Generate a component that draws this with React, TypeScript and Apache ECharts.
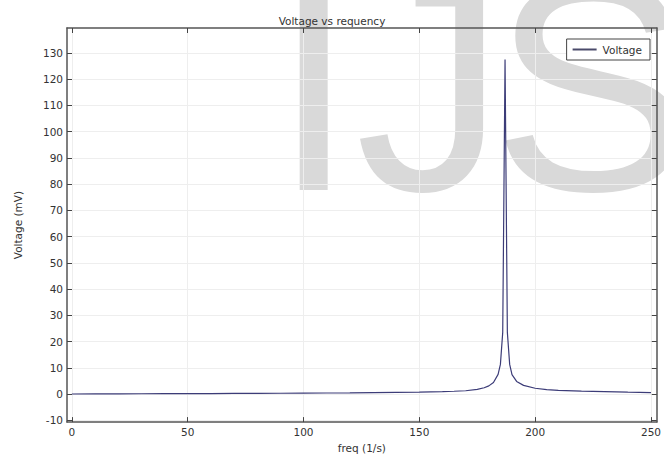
import React, { useEffect, useRef } from "react";
import * as echarts from "echarts";

const freq = [0, 10, 20, 30, 40, 50, 60, 70, 80, 90, 100, 110, 120, 130, 140, 150, 160, 165, 170, 175, 178, 180, 182, 184, 185, 186, 187, 188, 189, 190, 192, 195, 200, 205, 210, 220, 230, 240, 250];
const voltage = [0.0, 0.05, 0.08, 0.1, 0.12, 0.15, 0.18, 0.21, 0.25, 0.3, 0.35, 0.4, 0.45, 0.52, 0.6, 0.72, 0.9, 1.05, 1.25, 1.8, 2.4, 3.1, 4.4, 7.5, 11.3, 23.5, 127.5, 23.5, 11.3, 7.4, 4.8, 3.3, 2.2, 1.7, 1.4, 1.1, 0.9, 0.7, 0.55];
const xTicks = [0, 50, 100, 150, 200, 250];
const yTicks = [-10, 0, 10, 20, 30, 40, 50, 60, 70, 80, 90, 100, 110, 120, 130];

const TEXT = "#333";
const FRAME = "#555";
const FONT = "DejaVu Sans";
const WM = "#d9d9d9";

export default function App() {
  const ref = useRef<HTMLDivElement>(null);
  useEffect(() => {
    if (!ref.current) return;
    const chart = echarts.init(ref.current, undefined, { renderer: "svg" });
    const data = freq.map((f, i) => [f, voltage[i]]);
    const baseX = {
      type: "value",
      min: -2.1,
      max: 252.5,
      axisLine: { show: true, onZero: false, lineStyle: { color: FRAME, width: 1.5 } },
      axisTick: { show: true, inside: true, length: 5, customValues: xTicks, lineStyle: { color: "#444" } },
    };
    const baseY = {
      type: "value",
      min: -10.7,
      max: 139.5,
      axisLine: { show: true, onZero: false, lineStyle: { color: FRAME, width: 1.5 } },
      axisTick: { show: true, inside: true, length: 5, customValues: yTicks, lineStyle: { color: "#444" } },
    };
    chart.setOption({
      animation: false,
      backgroundColor: "#fff",
      title: {
        text: "Voltage vs requency",
        left: "center",
        top: 10,
        textStyle: { fontFamily: FONT, fontSize: 10.5, fontWeight: "normal", color: TEXT },
      },
      graphic: [
        {
          type: "text",
          z: -10,
          x: 272,
          y: 86,
          style: { text: "IJ", fontFamily: "Liberation Sans", fontSize: 300, fill: WM, verticalAlign: "middle" },
        },
        {
          type: "text",
          z: -10,
          x: 492,
          y: 86,
          style: { text: "S", fontFamily: "Liberation Sans", fontSize: 300, fill: WM, verticalAlign: "middle" },
        },
      ],
      legend: {
        right: 14,
        top: 39,
        data: ["Voltage"],
        icon: "rect",
        backgroundColor: "#fff",
        borderColor: "#444",
        borderWidth: 1,
        borderRadius: 0,
        padding: [5, 8, 5, 6],
        itemWidth: 24,
        itemHeight: 2,
        itemGap: 6,
        itemStyle: { color: "#4a4a6a" },
        textStyle: { fontFamily: FONT, fontSize: 10.5, color: TEXT, padding: [0, 0, 0, 1] },
      },
      grid: { left: 67, right: 4, top: 28, bottom: 26, containLabel: false },
      xAxis: [
        {
          ...baseX,
          position: "bottom",
          name: "freq (1/s)",
          nameLocation: "middle",
          nameGap: 16,
          nameTextStyle: { fontFamily: FONT, fontSize: 10.5, color: TEXT },
          axisLabel: { customValues: xTicks, margin: 4, fontFamily: FONT, fontSize: 10.5, color: TEXT },
          splitLine: { show: true, lineStyle: { color: "#eeeeee", width: 1 } },
        },
        {
          ...baseX,
          position: "top",
          axisLabel: { show: false },
          splitLine: { show: false },
        },
      ],
      yAxis: [
        {
          ...baseY,
          position: "left",
          name: "Voltage (mV)",
          nameLocation: "middle",
          nameGap: 44,
          nameTextStyle: { fontFamily: FONT, fontSize: 10.5, color: TEXT },
          axisLabel: { customValues: yTicks, margin: 4, fontFamily: FONT, fontSize: 10.5, color: TEXT },
          splitLine: { show: true, lineStyle: { color: "#eeeeee", width: 1 } },
        },
        {
          ...baseY,
          position: "right",
          axisLabel: { show: false },
          splitLine: { show: false },
        },
      ],
      series: [
        {
          name: "Voltage",
          type: "line",
          xAxisIndex: 0,
          yAxisIndex: 0,
          data,
          symbol: "none",
          smooth: false,
          lineStyle: { color: "#3c3c78", width: 1.2 },
          itemStyle: { color: "#3c3c78" },
        },
      ],
    });
    return () => chart.dispose();
  }, []);
  return (
    <div
      ref={ref}
      style={{ position: "fixed", left: 0, top: 0, width: 664, height: 458, background: "#fff" }}
    />
  );
}
